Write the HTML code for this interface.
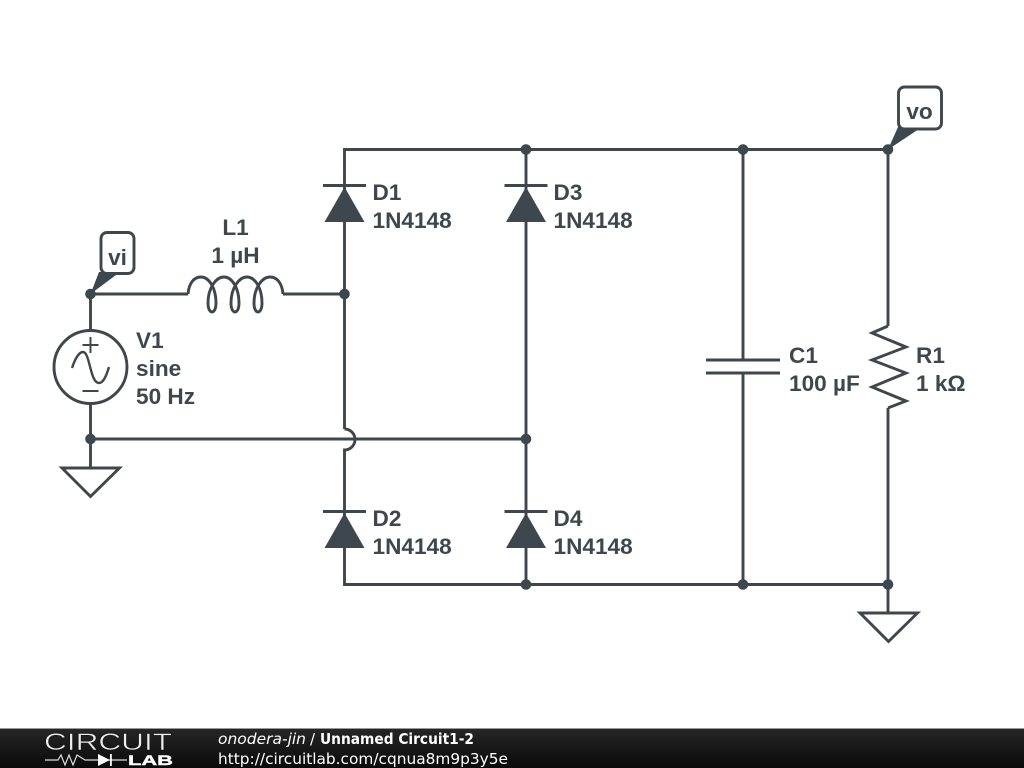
<!DOCTYPE html>
<html>
<head>
<meta charset="utf-8">
<style>
html,body{margin:0;padding:0;background:#fff;width:1024px;height:768px;overflow:hidden}
svg{display:block}
.w{fill:none;stroke:#3d474d;stroke-width:2.9}
.t{font-family:"Liberation Sans",sans-serif;font-size:22.6px;font-weight:bold;fill:#3d474d}
.f{font-family:"DejaVu Sans",sans-serif;font-size:15px;fill:#fff}
</style>
</head>
<body>
<svg width="1024" height="768" viewBox="0 0 1024 768" xmlns="http://www.w3.org/2000/svg">
<defs>
<linearGradient id="g" x1="0" y1="0" x2="0" y2="1"><stop offset="0" stop-color="#262626"/><stop offset="1" stop-color="#0a0a0a"/></linearGradient>
</defs>
<rect width="1024" height="768" fill="#fff"/>

<!-- wires -->
<path class="w" d="M344.5 429V149.5H888V326"/>
<path class="w" d="M344.5 429a10.5 10.5 0 0 1 0 21V584.5H888"/>
<path class="w" d="M526 149.5V584.5"/>
<path class="w" d="M743 149.5V360M743 373V584.5"/>
<path class="w" d="M888 408V613"/>
<path class="w" d="M90.5 294V330M90.5 404V468"/>
<path class="w" d="M90.5 294H188M283 294H344.5"/>
<path class="w" d="M90.5 439H526"/>

<!-- dots -->
<g fill="#3d474d">
<circle cx="90.5" cy="294" r="5.3"/><circle cx="344.5" cy="294" r="5.3"/>
<circle cx="90.5" cy="439" r="5.3"/><circle cx="526" cy="439" r="5.3"/>
<circle cx="526" cy="149.5" r="5.3"/><circle cx="743" cy="149.5" r="5.3"/><circle cx="888" cy="149.5" r="5.3"/>
<circle cx="526" cy="584.5" r="5.3"/><circle cx="743" cy="584.5" r="5.3"/><circle cx="888" cy="584.5" r="5.3"/>
</g>

<!-- diodes -->
<g fill="#3d474d">
<polygon points="344.5,187 364.5,222 324.5,222"/>
<polygon points="526,187 546,222 506,222"/>
<polygon points="344.5,513 364.5,548 324.5,548"/>
<polygon points="526,513 546,548 506,548"/>
</g>
<path class="w" d="M323 185.5H366M504.5 185.5H547.5M323 511.5H366M504.5 511.5H547.5"/>

<!-- inductor -->
<path class="w" d="M188 294C189 283 194 277 201 277C209 277 216 288 216 303C216 309 214 312 212 312C210 312 208 309 208 303C208 288 216 277 224 277C232 277 239 288 239 303C239 309 237 312 235 312C233 312 231 309 231 303C231 288 239 277 247 277C255 277 262 288 262 303C262 309 260 312 258 312C256 312 254 309 254 303C254 288 262 277 270 277C277 277 282 283 283 294"/>

<!-- source -->
<circle class="w" cx="90.5" cy="367" r="36.5" fill="#fff"/>
<path class="w" style="stroke-width:2" d="M82.5 345H98.5M90.5 337V353M82.5 391H98.5"/>
<path class="w" style="stroke-width:2.4" d="M72 368C76 356 80 352 83 352C90 352 90 383 99 383C103 383 106 377 109 367"/>

<!-- grounds -->
<path class="w" stroke-linejoin="miter" d="M62 468H119.5L90.5 496.5Z"/>
<path class="w" stroke-linejoin="miter" d="M860 613H917.5L888.5 641.5Z"/>

<!-- capacitor -->
<path class="w" d="M706 360H780M706 373H780"/>

<!-- resistor -->
<path class="w" d="M888 326L872 333L906 347L872 360L906 373L872 387L906 401L888 408"/>

<!-- node labels -->
<polygon points="90.5,294 99,272 120,272" fill="#3d474d"/>
<rect x="101" y="232.5" width="33" height="41" rx="6" fill="#fff" stroke="#3d474d" stroke-width="2.9"/>
<text class="t" x="117.5" y="265" text-anchor="middle">vi</text>
<polygon points="888,149.5 898,127 922,127" fill="#3d474d"/>
<rect x="898.5" y="87" width="43" height="42" rx="6" fill="#fff" stroke="#3d474d" stroke-width="2.9"/>
<text class="t" x="919.5" y="119" text-anchor="middle">vo</text>

<!-- labels -->
<text class="t" x="235.5" y="235" text-anchor="middle">L1</text>
<text class="t" x="235.5" y="263" text-anchor="middle">1 µH</text>
<text class="t" x="136" y="348">V1</text>
<text class="t" x="136" y="376">sine</text>
<text class="t" x="136" y="404">50 Hz</text>
<text class="t" x="372.5" y="200">D1</text>
<text class="t" x="372.5" y="228">1N4148</text>
<text class="t" x="553.5" y="200">D3</text>
<text class="t" x="553.5" y="228">1N4148</text>
<text class="t" x="372.5" y="526">D2</text>
<text class="t" x="372.5" y="554">1N4148</text>
<text class="t" x="553.5" y="526">D4</text>
<text class="t" x="553.5" y="554">1N4148</text>
<text class="t" x="789" y="363">C1</text>
<text class="t" x="789" y="391">100 µF</text>
<text class="t" x="916" y="363">R1</text>
<text class="t" x="916" y="391">1 kΩ</text>

<!-- footer -->
<rect x="0" y="728" width="1024" height="1" fill="#999"/>
<rect x="0" y="729" width="1024" height="39" fill="url(#g)"/>
<text x="44" y="750" font-family="Liberation Sans, sans-serif" font-size="24" fill="#eee" stroke="#111" stroke-width=".5" textLength="128" lengthAdjust="spacingAndGlyphs">CIRCUIT</text>
<path d="M45 760H58L61 755L65 765L69 755L73 765L77 755L85 760H127" fill="none" stroke="#ddd" stroke-width="1.2"/>
<polygon points="98,754 110,760 98,766" fill="#fff"/>
<rect x="110" y="754" width="1.8" height="12" fill="#fff"/>
<text x="128" y="765" font-family="Liberation Sans, sans-serif" font-size="14" font-weight="bold" fill="#fff" stroke="#fff" stroke-width=".4" textLength="45" lengthAdjust="spacingAndGlyphs">LAB</text>
<text class="f" x="218" y="744" font-style="italic" textLength="88" lengthAdjust="spacingAndGlyphs">onodera-jin</text>
<text class="f" x="310" y="744">/</text>
<text class="f" x="320" y="744" font-weight="bold" textLength="154" lengthAdjust="spacingAndGlyphs">Unnamed Circuit1-2</text>
<text class="f" x="218" y="764" textLength="290" lengthAdjust="spacingAndGlyphs">http://circuitlab.com/cqnua8m9p3y5e</text>
</svg>
</body>
</html>
